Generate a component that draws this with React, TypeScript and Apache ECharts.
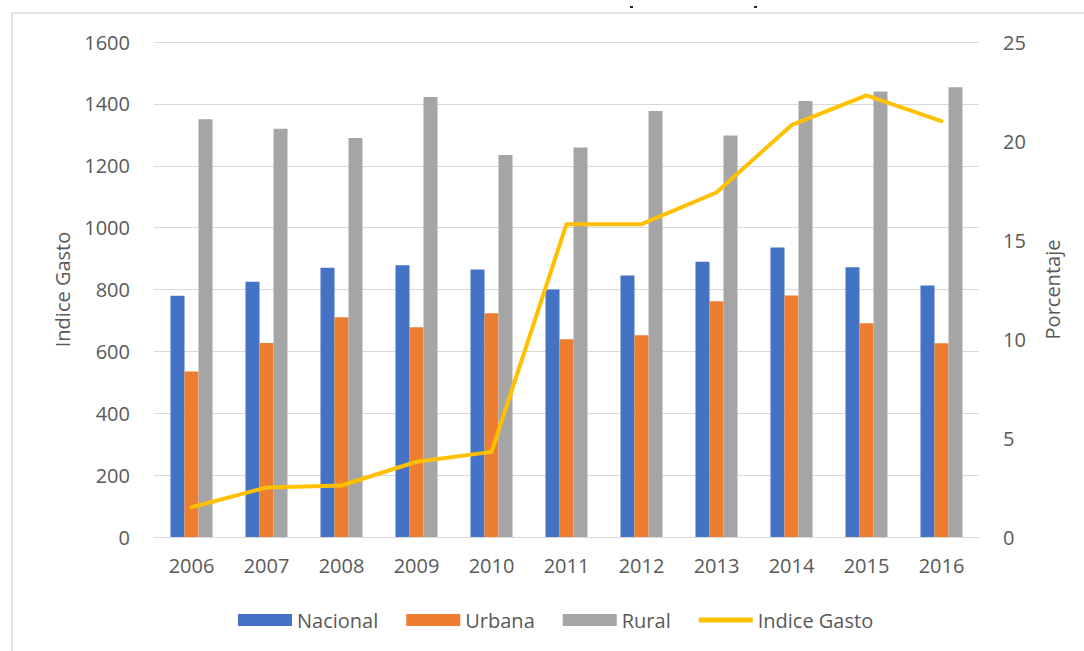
import React, { useEffect, useRef } from "react";
import * as echarts from "echarts";

const years = ["2006", "2007", "2008", "2009", "2010", "2011", "2012", "2013", "2014", "2015", "2016"];
const nacional = [780, 825, 870, 878, 865, 800, 845, 890, 936, 872, 813];
const urbana = [535, 627, 710, 678, 723, 639, 652, 762, 781, 691, 626];
const rural = [1350, 1320, 1290, 1422, 1235, 1259, 1377, 1298, 1409, 1440, 1454];
const indiceGasto = [1.5, 2.5, 2.6, 3.8, 4.3, 15.8, 15.8, 17.4, 20.8, 22.3, 21.0];

const FONT = "Open Sans";
const TXT = "#595959";
const FS = 20;

export default function App() {
  const ref = useRef<HTMLDivElement>(null);
  useEffect(() => {
    if (!ref.current) return;
    const chart = echarts.init(ref.current, undefined, { renderer: "svg" });
    chart.setOption({
      animation: false,
      backgroundColor: "#ffffff",
      textStyle: { fontFamily: FONT, color: TXT },
      grid: { left: 154, right: 105, top: 42, bottom: 114, containLabel: false },
      graphic: [
        {
          type: "rect",
          shape: { x: 12, y: 13, width: 1200, height: 800 },
          style: { fill: "none", stroke: "#d9d9d9", lineWidth: 1.5 },
          silent: true,
        },
        { type: "rect", shape: { x: 630, y: 6, width: 3, height: 2 }, style: { fill: "#222" } },
        { type: "rect", shape: { x: 754, y: 6, width: 3, height: 2 }, style: { fill: "#222" } },
      ],
      legend: {
        left: 238,
        top: 610,
        padding: 0,
        itemWidth: 54,
        itemHeight: 12,
        itemGap: 28,
        textStyle: { fontFamily: FONT, fontSize: FS, color: TXT },
        data: [
          { name: "Nacional", icon: "rect" },
          { name: "Urbana", icon: "rect" },
          { name: "Rural", icon: "rect" },
          { name: "Indice Gasto", icon: "path://M0,0H54V5H0Z" },
        ],
      },
      xAxis: {
        type: "category",
        data: years,
        axisLine: { show: true, lineStyle: { color: "#d9d9d9", width: 1 } },
        axisTick: { show: false },
        axisLabel: { fontFamily: FONT, fontSize: FS, color: TXT, margin: 18 },
      },
      yAxis: [
        {
          type: "value",
          min: 0,
          max: 1600,
          interval: 200,
          name: "Indice Gasto",
          nameLocation: "middle",
          nameRotate: 90,
          nameGap: 82,
          nameTextStyle: { fontFamily: FONT, fontSize: FS, color: TXT },
          axisLine: { show: false },
          axisTick: { show: false },
          splitLine: { lineStyle: { color: "#d9d9d9", width: 1 } },
          axisLabel: { fontFamily: FONT, fontSize: FS, color: TXT, margin: 24, formatter: (v: number) => String(v) },
        },
        {
          type: "value",
          min: 0,
          max: 25,
          interval: 5,
          name: "Porcentaje",
          nameLocation: "middle",
          nameRotate: 90,
          nameGap: 63,
          nameTextStyle: { fontFamily: FONT, fontSize: FS, color: TXT },
          axisLine: { show: false },
          axisTick: { show: false },
          splitLine: { show: false },
          axisLabel: { fontFamily: FONT, fontSize: FS, color: TXT, margin: 24, formatter: (v: number) => String(v) },
        },
      ],
      series: [
        { name: "Nacional", type: "bar", data: nacional, barWidth: 14, barGap: "0%", itemStyle: { color: "#4472C4" } },
        { name: "Urbana", type: "bar", data: urbana, barWidth: 14, barGap: "0%", itemStyle: { color: "#ED7D31" } },
        { name: "Rural", type: "bar", data: rural, barWidth: 14, barGap: "0%", itemStyle: { color: "#A5A5A5" } },
        {
          name: "Indice Gasto",
          type: "line",
          yAxisIndex: 1,
          data: indiceGasto,
          symbol: "none",
          lineStyle: { color: "#FFC000", width: 4, cap: "round", join: "round" },
          itemStyle: { color: "#FFC000" },
        },
      ],
    });
    return () => chart.dispose();
  }, []);
  return (
    <div
      ref={ref}
      style={{ position: "absolute", left: 0, top: 0, width: 1084, height: 651 }}
    />
  );
}
